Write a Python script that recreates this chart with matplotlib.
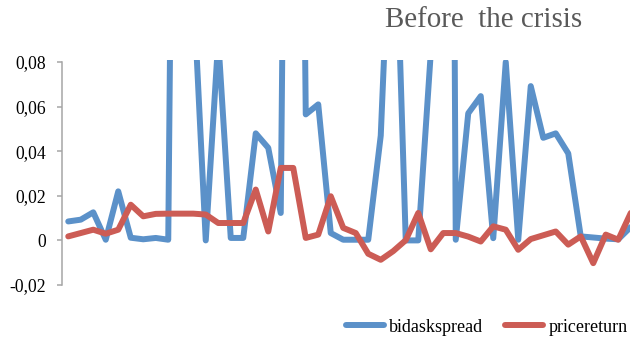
import numpy as np
from matplotlib import pyplot as plt
from matplotlib.ticker import FuncFormatter

# daily observations before the crisis
days = np.arange(46)

bidaskspread = [0.0085, 0.0093, 0.0126, 0.0003, 0.022, 0.0012, 0.0005, 0.0011, 0.0003, 0.60,
                0.114, 0.0, 0.09, 0.0011, 0.0011, 0.048, 0.0415, 0.0123, 0.60, 0.0565,
                0.061, 0.0033, 0.0003, 0.0003, 0.0003, 0.047, 0.18, 0.0, 0.0, 0.084,
                1.0, 0.0003, 0.057, 0.0647, 0.001, 0.080, 0.0003, 0.0692, 0.046, 0.048,
                0.039, 0.0018, 0.0013, 0.0008, 0.0005, 0.006]

pricereturn = [0.0018, 0.0033, 0.0048, 0.003, 0.0048, 0.016, 0.0108, 0.0119, 0.012, 0.012,
               0.012, 0.0116, 0.0078, 0.0078, 0.0078, 0.0228, 0.004, 0.0325, 0.0325, 0.0011,
               0.0026, 0.0198, 0.0056, 0.0033, -0.006, -0.0087, -0.0048, 0.0001, 0.0123, -0.004,
               0.0033, 0.0033, 0.0017, -0.0005, 0.0063, 0.0048, -0.0042, 0.0006, 0.0023, 0.004,
               -0.0019, 0.0018, -0.0102, 0.0026, 0.0003, 0.0123]

yticks = [-0.02, 0, 0.02, 0.04, 0.06, 0.08]

plt.rcParams['font.family'] = ['Liberation Serif', 'DejaVu Serif']

W, H = 630., 345.
fig = plt.figure(figsize=(W / 100, H / 100), dpi=100)
# plot area runs a little past the right edge of the figure
ax = fig.add_axes([62 / W, 60 / H, 575 / W, 225 / H])

blue = '#5b91c9'
red = '#cc5c55'
ax.plot(days, bidaskspread, color=blue, lw=4.3, label='bidaskspread',
        solid_joinstyle='round', solid_capstyle='round')
ax.plot(days, pricereturn, color=red, lw=4.3, label='pricereturn',
        solid_joinstyle='round', solid_capstyle='round')

ax.set_xlim(-0.5, 45.5)
ax.set_ylim(-0.02, 0.0809)
ax.set_yticks(yticks)
ax.yaxis.set_major_formatter(FuncFormatter(
    lambda v, p: '0' if abs(v) < 1e-9 else ('%.2f' % v).replace('.', ',')))
ax.tick_params(axis='y', length=3.6, width=1.1, color='#a6a6a6', pad=8,
               labelsize=12.7, labelcolor='black')
ax.set_xticks([])

for s in ['top', 'right', 'bottom']:
    ax.spines[s].set_visible(False)
ax.spines['left'].set_color('#a6a6a6')
ax.spines['left'].set_linewidth(1.1)
ax.spines['left'].set_bounds(-0.02, 0.08)

fig.text(385 / W, 1 - 20 / H, 'Before  the crisis', fontsize=20.9, color='#595959',
         ha='left', va='center')

fig.legend(loc='center left', bbox_to_anchor=(346 / W, 1 - 327 / H), ncol=2,
           frameon=False, fontsize=13, handlelength=2.1, handletextpad=0.3,
           columnspacing=1.2, borderpad=0, borderaxespad=0)

fig.savefig('out.png', dpi=100)
